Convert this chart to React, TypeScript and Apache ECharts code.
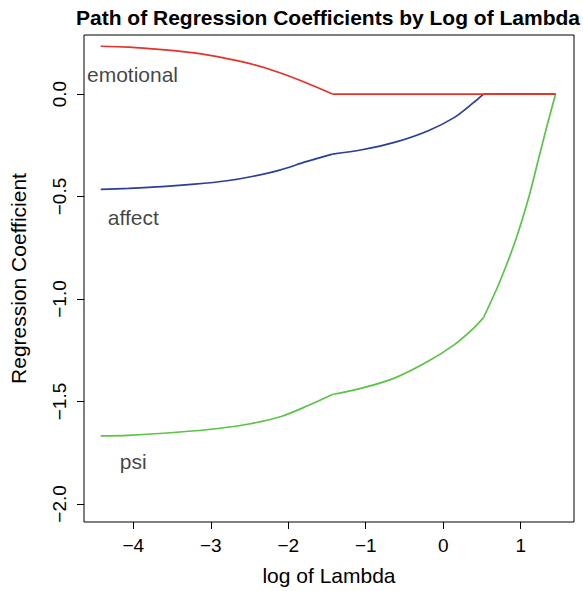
import React, { useEffect, useRef } from "react";
import * as echarts from "echarts";

const titleText = "Path of Regression Coefficients by Log of Lambda";
const xAxisTitle = "log of Lambda";
const yAxisTitle = "Regression Coefficient";

const xTicks = [-4, -3, -2, -1, 0, 1];
const yTicks = [-2, -1.5, -1, -0.5, 0];

// log(lambda) values where the coefficient paths change slope abruptly
const kinkLogLambda = [-1.43, 0.52];

const emotionalPath: [number, number][] = [
  [-4.42, 0.233], [-4.06, 0.229], [-3.63, 0.217], [-3.21, 0.201],
  [-2.79, 0.173], [-2.45, 0.144], [-2.11, 0.104], [-1.77, 0.055],
  [-1.43, 0], [0.52, 0], [1.45, 0],
];
const affectPath: [number, number][] = [
  [-4.42, -0.465], [-4.06, -0.46], [-3.63, -0.452], [-3.21, -0.44],
  [-2.79, -0.423], [-2.45, -0.401], [-2.11, -0.371], [-1.77, -0.33],
  [-1.43, -0.293], [-1.05, -0.272], [-0.63, -0.236], [-0.2, -0.18],
  [0.14, -0.115], [0.39, -0.042], [0.52, 0], [1.45, 0],
];
const psiPath: [number, number][] = [
  [-4.42, -1.668], [-4.07, -1.665], [-3.44, -1.65], [-2.93, -1.633],
  [-2.51, -1.61], [-2.09, -1.573], [-1.75, -1.521], [-1.43, -1.466],
  [-1.05, -1.435], [-0.63, -1.386], [-0.2, -1.305], [0.14, -1.224],
  [0.39, -1.143], [0.52, -1.091], [0.73, -0.916], [0.94, -0.706],
  [1.11, -0.496], [1.23, -0.317], [1.34, -0.155], [1.45, 0],
];

const curveLabels: { name: string; value: [number, number] }[] = [
  { name: "emotional", value: [-4.01, 0.096] },
  { name: "affect", value: [-4.0, -0.604] },
  { name: "psi", value: [-4.0, -1.794] },
];

const curves = [
  { name: "affect", data: affectPath, color: "#2C3E99" },
  { name: "psi", data: psiPath, color: "#5BC347" },
  { name: "emotional", data: emotionalPath, color: "#E3332B" },
];

const FONT = "'Liberation Sans', Arial, Helvetica, sans-serif";
const fmt = (v: number, d: number) => v.toFixed(d).replace("-", "\u2212");

function splitAtKinks(data: [number, number][]) {
  const segs: [number, number][][] = [];
  let cur: [number, number][] = [];
  data.forEach((p, i) => {
    cur.push(p);
    const isKink = kinkLogLambda.some((k) => Math.abs(k - p[0]) < 1e-6);
    if (isKink && i > 0 && i < data.length - 1) {
      segs.push(cur);
      cur = [p];
    }
  });
  if (cur.length > 1) segs.push(cur);
  return segs;
}

export default function App() {
  const ref = useRef<HTMLDivElement>(null);
  useEffect(() => {
    if (!ref.current) return;
    const chart = echarts.init(ref.current, undefined, { renderer: "svg" });
    const lineSeries: any[] = [];
    curves.forEach((c) => {
      splitAtKinks(c.data).forEach((seg) => {
        lineSeries.push({
          type: "line",
          name: c.name,
          data: seg,
          showSymbol: false,
          smooth: seg.length > 2 ? 0.3 : false,
          lineStyle: { color: c.color, width: 1.7 },
          itemStyle: { color: c.color },
        });
      });
    });
    chart.setOption({
      animation: false,
      backgroundColor: "#fff",
      title: {
        text: titleText,
        left: 323,
        textAlign: "center",
        top: 2,
        textStyle: { fontFamily: FONT, fontSize: 21, fontWeight: "bold", color: "#000" },
      },
      grid: {
        left: 75.5,
        right: 9,
        top: 35,
        bottom: 67,
        show: true,
        borderColor: "#000",
        borderWidth: 1,
        backgroundColor: "transparent",
      },
      xAxis: {
        type: "value",
        min: -4.636,
        max: 1.688,
        name: xAxisTitle,
        nameLocation: "middle",
        nameGap: 43,
        nameTextStyle: { fontFamily: FONT, fontSize: 21, color: "#000" },
        axisLine: { show: false, onZero: false },
        splitLine: { show: false },
        axisTick: { show: true, length: 7, customValues: xTicks, lineStyle: { color: "#000" } },
        axisLabel: {
          customValues: xTicks,
          fontFamily: FONT,
          fontSize: 19,
          color: "#000",
          margin: 14,
          formatter: (v: number) => fmt(v, 0),
        },
      },
      yAxis: {
        type: "value",
        min: -2.088,
        max: 0.288,
        name: yAxisTitle,
        nameLocation: "middle",
        nameRotate: 90,
        nameGap: 55,
        nameTextStyle: { fontFamily: FONT, fontSize: 21, color: "#000" },
        axisLine: { show: false, onZero: false },
        splitLine: { show: false },
        axisTick: { show: true, length: 7, customValues: yTicks, lineStyle: { color: "#000" } },
        axisLabel: {
          customValues: yTicks,
          rotate: 90,
          fontFamily: FONT,
          fontSize: 19,
          color: "#000",
          margin: 15,
          formatter: (v: number) => fmt(v, 1),
        },
      },
      series: [
        ...lineSeries,
        {
          type: "scatter",
          data: curveLabels,
          symbolSize: 0,
          label: {
            show: true,
            position: "inside",
            formatter: (p: any) => p.name,
            fontFamily: FONT,
            fontSize: 21,
            color: "#111",
          },
        },
      ],
    });
    return () => chart.dispose();
  }, []);
  return (
    <div
      ref={ref}
      style={{ position: "absolute", left: 0, top: 0, width: 583, height: 591 }}
    />
  );
}
